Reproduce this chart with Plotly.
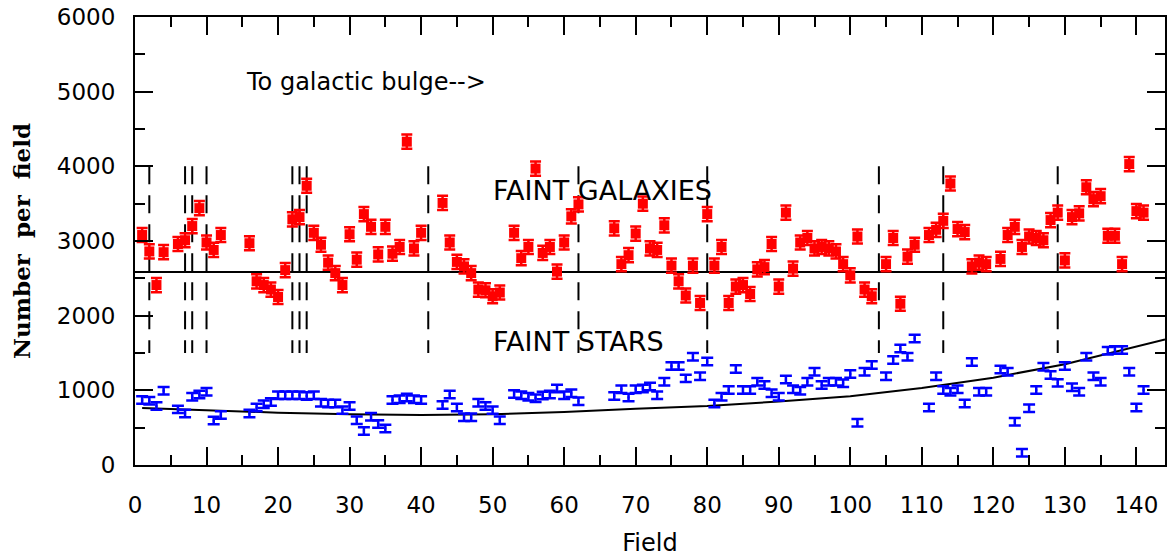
import plotly.graph_objects as go

# ---- data ----
fields = [1, 2, 3, 4, 6, 7, 8, 9, 10, 11, 12,
          16, 17, 18, 19, 20, 21, 22, 23, 24, 25, 26, 27, 28, 29, 30, 31, 32, 33, 34, 35, 36, 37, 38, 39, 40,
          43, 44, 45, 46, 47, 48, 49, 50, 51,
          53, 54, 55, 56, 57, 58, 59, 60, 61, 62,
          67, 68, 69, 70, 71, 72, 73, 74, 75, 76, 77, 78, 79, 80, 81, 82, 83, 84, 85, 86, 87, 88, 89, 90,
          91, 92, 93, 94, 95, 96, 97, 98, 99, 100, 101, 102, 103,
          105, 106, 107, 108, 109,
          111, 112, 113, 114, 115, 116, 117, 118, 119,
          121, 122, 123, 124, 125, 126, 127, 128, 129, 130, 131, 132, 133, 134, 135, 136, 137, 138, 139, 140, 141]

galaxies = [3080, 2860, 2410, 2850, 2960, 3010, 3200, 3440, 2980, 2880, 3080,
            2970, 2460, 2410, 2350, 2250, 2610, 3290, 3320, 3740, 3110, 2950, 2710, 2570, 2410, 3090, 2750, 3360, 3190, 2820, 3190, 2830, 2920, 4330, 2900, 3110,
            3510, 2980, 2720, 2660, 2570, 2350, 2340, 2260, 2310,
            3110, 2770, 2920, 3970, 2840, 2920, 2590, 2980, 3330, 3490,
            3170, 2690, 2810, 3100, 3500, 2900, 2880, 3210, 2670, 2460, 2270, 2670, 2170, 3360, 2670, 2920, 2170, 2390, 2410, 2290, 2620, 2650, 2960, 2390,
            3380, 2630, 2980, 3040, 2900, 2920, 2900, 2860, 2690, 2540, 3060, 2350, 2260,
            2690, 3040, 2160, 2790, 2950,
            3080, 3150, 3270, 3770, 3160, 3120, 2660, 2710, 2690,
            2760, 3080, 3190, 2920, 3060, 3040, 3010, 3280, 3380, 2740, 3320, 3370, 3720, 3560, 3600, 3070, 3070, 2690, 4030, 3400, 3380]

stars = [870, 860, 790, 995, 745, 690, 915, 945, 980, 595, 670,
         690, 770, 815, 845, 935, 935, 935, 935, 925, 935, 835, 825, 825, 735, 790, 600, 455, 645, 550, 490, 870, 880, 905, 880, 870,
         805, 945, 770, 640, 640, 835, 790, 735, 600,
         950, 935, 915, 895, 930, 945, 1025, 935, 960, 855,
         925, 1015, 905, 1015, 1025, 1050, 935, 1115, 1325, 1325, 1160, 1450, 1190, 1385, 825, 915, 1005, 1285, 1005, 1005, 1115, 1070, 960, 915,
         1145, 1015, 995, 1115, 1250, 1070, 1115, 1115, 1095, 1220, 565, 1250, 1340,
         1190, 1405, 1560, 1450, 1695,
         770, 1190, 1005, 980, 1015, 825, 1380, 980, 980,
         1280, 1250, 580, 165, 760, 1005, 1315, 1205, 1100, 1325, 1040, 980, 1450, 1190, 1115, 1530, 1540, 1540, 1250, 770, 1005]

gal_err = 95
star_err = 50

model_fields = [1, 10, 20, 30, 40, 50, 60, 70, 80, 90, 100, 110, 120, 130, 140, 144]
model_stars = [765, 730, 700, 680, 670, 680, 710, 755, 790, 850, 920, 1030, 1170, 1350, 1590, 1680]

mean_level = 2585
dashed_fields = [2, 7, 8, 10, 22, 23, 24, 41, 62, 80, 104, 113, 129]
dash_range = [1500, 4000]

x_range = [0, 144]
y_range = [0, 6000]

fig = go.Figure()

# mean galaxy level
fig.add_trace(go.Scatter(x=x_range, y=[mean_level, mean_level], mode="lines",
                         line=dict(color="black", width=2), showlegend=False, hoverinfo="skip"))
# star model curve
fig.add_trace(go.Scatter(x=model_fields, y=model_stars, mode="lines",
                         line=dict(color="black", width=2), showlegend=False, hoverinfo="skip"))

# galaxies
fig.add_trace(go.Scatter(x=fields, y=galaxies, mode="markers",
                         marker=dict(symbol="square", size=10, color="#ff0000", line=dict(width=0)),
                         error_y=dict(type="constant", value=gal_err, color="#ff0000", thickness=2.5, width=5.5),
                         showlegend=False, name="Faint galaxies"))
# stars
fig.add_trace(go.Scatter(x=fields, y=stars, mode="markers",
                         marker=dict(symbol="square", size=2, color="#0000ff", line=dict(width=0)),
                         error_y=dict(type="constant", value=star_err, color="#0000ff", thickness=2.5, width=6),
                         showlegend=False, name="Faint stars"))

shapes = []
for f in dashed_fields:
    shapes.append(dict(type="line", xref="x", yref="y", x0=f, x1=f, y0=dash_range[1], y1=dash_range[0],
                       line=dict(color="black", width=2, dash="18px,11px"), layer="below"))

annotations = [
    dict(x=15.2, y=5130, xref="x", yref="y", text="To galactic bulge-->", showarrow=False,
         xanchor="left", yanchor="middle", font=dict(family="DejaVu Sans", size=24, color="black")),
    dict(x=49.8, y=3680, xref="x", yref="y", text="FAINT GALAXIES", showarrow=False,
         xanchor="left", yanchor="middle", font=dict(family="DejaVu Sans", size=27, color="black")),
    dict(x=49.8, y=1650, xref="x", yref="y", text="FAINT STARS", showarrow=False,
         xanchor="left", yanchor="middle", font=dict(family="DejaVu Sans", size=27, color="black")),
]

fig.update_layout(
    width=1170, height=557,
    margin=dict(l=135, r=3, t=17, b=92),
    paper_bgcolor="white", plot_bgcolor="white",
    shapes=shapes, annotations=annotations,
    showlegend=False,
)

fig.update_xaxes(range=x_range, showgrid=False, zeroline=False,
                 showline=True, linecolor="black", linewidth=2, mirror="ticks",
                 ticks="inside", ticklen=18, tickwidth=2, tickcolor="black",
                 tick0=0, dtick=10,
                 minor=dict(ticks="inside", ticklen=10, tickwidth=2, tickcolor="black", dtick=5, showgrid=False),
                 tickfont=dict(family="DejaVu Sans", size=23, color="black"),
                 ticklabelstandoff=18,
                 title=dict(text="Field", font=dict(family="DejaVu Sans", size=24, color="black"), standoff=20))

fig.update_yaxes(range=y_range, showgrid=False, zeroline=False,
                 showline=True, linecolor="black", linewidth=2, mirror="ticks",
                 ticks="inside", ticklen=18, tickwidth=2, tickcolor="black",
                 tick0=0, dtick=1000,
                 minor=dict(ticks="inside", ticklen=10, tickwidth=2, tickcolor="black", dtick=500, showgrid=False),
                 tickfont=dict(family="DejaVu Sans", size=23, color="black"),
                 ticklabelstandoff=13,
                 title=dict(text="Number  per  field", font=dict(family="DejaVu Serif", size=23, color="black", weight="bold"), standoff=20))

fig.write_html("out.html")
